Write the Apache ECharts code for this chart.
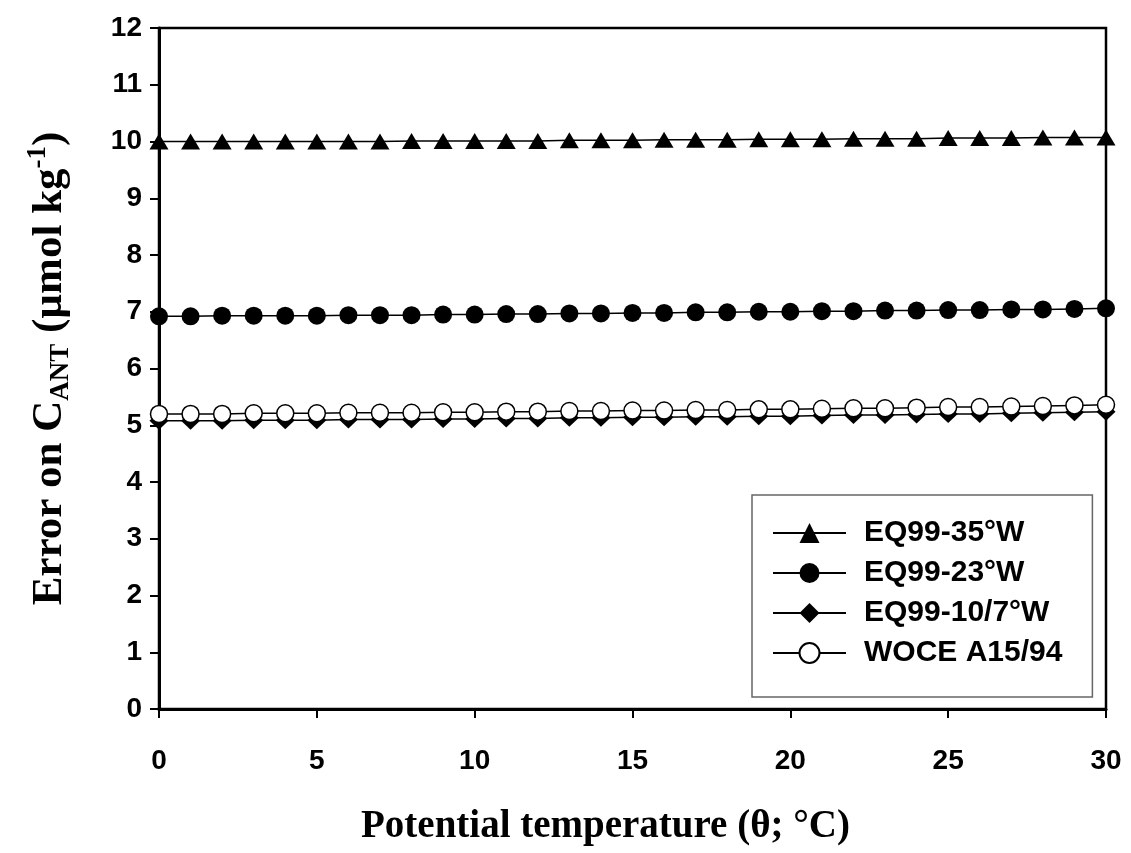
<!DOCTYPE html>
<html>
<head>
<meta charset="utf-8">
<script src="https://cdn.jsdelivr.net/npm/echarts@6/dist/echarts.min.js"></script>
<style>html,body{margin:0;padding:0;background:#fff;}#c{width:1131px;height:853px;}</style>
</head>
<body>
<div id="c"></div>
<script>
var theta = [0,1,2,3,4,5,6,7,8,9,10,11,12,13,14,15,16,17,18,19,20,21,22,23,24,25,26,27,28,29,30];
var eq35 = [10.00,10.00,10.00,10.00,10.00,10.00,10.00,10.00,10.01,10.01,10.01,10.01,10.01,10.02,10.02,10.02,10.03,10.03,10.03,10.04,10.04,10.04,10.05,10.05,10.05,10.06,10.06,10.06,10.07,10.07,10.07];
var eq23 = [6.92,6.92,6.93,6.93,6.93,6.93,6.94,6.94,6.94,6.95,6.95,6.96,6.96,6.97,6.97,6.98,6.98,6.99,6.99,7.00,7.00,7.01,7.01,7.02,7.02,7.03,7.03,7.04,7.04,7.05,7.06];
var eq10 = [5.08,5.08,5.08,5.09,5.09,5.09,5.10,5.10,5.10,5.11,5.11,5.12,5.12,5.13,5.13,5.14,5.14,5.15,5.15,5.16,5.16,5.17,5.18,5.18,5.19,5.20,5.20,5.21,5.22,5.23,5.24];
var woce = [5.20,5.20,5.20,5.21,5.21,5.21,5.22,5.22,5.22,5.23,5.23,5.24,5.24,5.25,5.25,5.26,5.26,5.27,5.27,5.28,5.28,5.29,5.30,5.30,5.31,5.32,5.32,5.33,5.34,5.35,5.36];
var seriesNames = ['EQ99-35°W','EQ99-23°W','EQ99-10/7°W','WOCE A15/94'];

function pairs(arr){ return theta.map(function(t,i){ return [t, arr[i]]; }); }

var chart = echarts.init(document.getElementById('c'));
var lineStyle = {color:'#000', width:1.5};
chart.setOption({
  animation:false,
  backgroundColor:'#fff',
  grid:{left:159, right:25, top:28, bottom:144, show:true, borderColor:'#000', borderWidth:2.5, backgroundColor:'transparent'},
  legend:{
    orient:'vertical', left:752, top:495,
    padding:[23,30,29,20],
    borderColor:'#666', borderWidth:1.5,
    itemWidth:73, itemHeight:25, itemGap:10,
    data:seriesNames,
    textStyle:{fontFamily:'Liberation Sans, Arial', fontWeight:'bold', fontSize:30, color:'#000', lineHeight:30, padding:[0,0,0,13]}
  },
  xAxis:{
    type:'value', min:0, max:30, interval:5,
    axisLine:{lineStyle:{color:'#000', width:3}},
    axisTick:{inside:false, length:9, lineStyle:{color:'#000', width:2}},
    splitLine:{show:false},
    axisLabel:{margin:38, color:'#000', fontSize:28, fontWeight:'bold', fontFamily:'Liberation Sans Narrow, Liberation Sans, Arial'},
    name:'Potential temperature (θ; °C)', nameLocation:'middle', nameGap:98,
    nameTextStyle:{fontFamily:'Liberation Serif, Times New Roman', fontWeight:'bold', fontSize:39, color:'#000', padding:[0,54,0,0]}
  },
  yAxis:{
    type:'value', min:0, max:12, interval:1,
    axisLine:{lineStyle:{color:'#000', width:3}},
    axisTick:{inside:false, length:9, lineStyle:{color:'#000', width:2}},
    splitLine:{show:false},
    axisLabel:{margin:17, color:'#000', fontSize:28, fontWeight:'bold', fontFamily:'Liberation Sans, Arial'},
    name:'{a|Error on C}{sub|ANT}{a| (µmol kg}{sup|-1}{a|)}', nameLocation:'middle', nameGap:84,
    nameTextStyle:{
      color:'#000',
      rich:{
        a:{fontFamily:'Liberation Serif, Times New Roman', fontWeight:'bold', fontSize:43, color:'#000', lineHeight:50},
        sub:{fontFamily:'Liberation Serif, Times New Roman', fontWeight:'bold', fontSize:27, color:'#000', lineHeight:20, verticalAlign:'bottom'},
        sup:{fontFamily:'Liberation Serif, Times New Roman', fontWeight:'bold', fontSize:27, color:'#000', lineHeight:20, verticalAlign:'top'}
      }
    }
  },
  series:[
    {name:seriesNames[0], type:'line', data:pairs(eq35), symbol:'triangle', symbolSize:[19,16], lineStyle:lineStyle, itemStyle:{color:'#000'}, z:2},
    {name:seriesNames[1], type:'line', data:pairs(eq23), symbol:'circle', symbolSize:18, lineStyle:lineStyle, itemStyle:{color:'#000'}, z:2},
    {name:seriesNames[2], type:'line', data:pairs(eq10), symbol:'diamond', symbolSize:[19,18], lineStyle:lineStyle, itemStyle:{color:'#000'}, z:2},
    {name:seriesNames[3], type:'line', data:pairs(woce), symbol:'circle', symbolSize:17, lineStyle:lineStyle, itemStyle:{color:'#fff', borderColor:'#000', borderWidth:1.5}, z:3}
  ]
});
</script>
</body>
</html>
